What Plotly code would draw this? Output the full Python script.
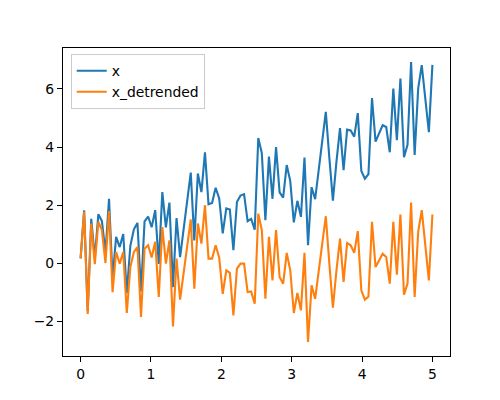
import numpy as np
import plotly.graph_objects as go

n_points = 100
t = np.linspace(0, 5, n_points)

x_values = [
    0.17, 1.82, -1.64, 1.53, 0.18, 1.69, 1.45, 0.37, 2.22, -0.52,
    0.91, 0.56, 1.01, -1.03, 0.60, 1.17, 1.39, -0.97, 1.44, 1.61,
    1.24, 1.83, -0.02, 2.45, 1.24, 2.09, -0.82, 1.56, 0.21, 1.15,
    2.12, 3.12, 0.79, 3.09, 2.45, 3.82, 2.03, 2.08, 2.60, 2.23,
    1.03, 1.89, 1.85, 0.45, 2.11, 2.33, 2.38, 1.45, 1.53, 1.16,
    4.31, 3.79, 1.48, 3.67, 2.22, 4.00, 2.44, 2.26, 3.38, 2.83,
    1.41, 2.15, 1.60, 3.64, 0.62, 2.62, 2.21, 3.24, 4.22, 5.21,
    3.63, 2.16, 3.50, 4.65, 3.21, 4.60, 4.57, 4.36, 5.17, 3.18,
    2.91, 3.07, 5.69, 4.19, 4.47, 4.75, 4.69, 3.82, 6.01, 4.24,
    6.36, 3.65, 4.08, 6.93, 3.73, 6.02, 6.82, 5.55, 4.51, 6.83,
]

x_detrended = [
    0.17, 1.77, -1.74, 1.37, -0.03, 1.43, 1.14, 0.01, 1.80, -0.99,
    0.39, -0.01, 0.39, -1.71, -0.13, 0.39, 0.56, -1.85, 0.50, 0.62,
    0.20, 0.74, -1.16, 1.25, -0.01, 0.79, -2.17, 0.16, -1.25, -0.36,
    0.56, 1.51, -0.87, 1.37, 0.68, 2.00, 0.16, 0.16, 0.62, 0.20,
    -1.05, -0.24, -0.33, -1.79, -0.18, -0.01, -0.01, -0.99, -0.97, -1.39,
    1.71, 1.14, -1.22, 0.91, -0.59, 1.14, -0.47, -0.70, 0.36, -0.24,
    -1.71, -1.02, -1.62, 0.36, -2.71, -0.76, -1.22, -0.24, 0.68, 1.62,
    -0.01, -1.53, -0.24, 0.85, -0.64, 0.70, 0.62, 0.36, 1.11, -0.93,
    -1.25, -1.14, 1.43, -0.13, 0.10, 0.33, 0.22, -0.70, 1.43, -0.39,
    1.68, -1.08, -0.70, 2.09, -1.16, 1.08, 1.83, 0.51, -0.59, 1.68,
]

x_ticks = [0, 1, 2, 3, 4, 5]
y_ticks = [-2, 0, 2, 4, 6]

fig = go.Figure()
fig.add_trace(go.Scatter(x=t, y=x_values, mode="lines", name="x",
                         line=dict(color="#1f77b4", width=2.1)))
fig.add_trace(go.Scatter(x=t, y=x_detrended, mode="lines", name="x_detrended",
                         line=dict(color="#ff7f0e", width=2.1)))

axis_common = dict(
    showgrid=False, zeroline=False, showline=True, linecolor="black",
    linewidth=1.1, mirror=True, ticks="outside", ticklen=5, tickwidth=1.1,
    tickcolor="black", tickfont=dict(family="DejaVu Sans", size=13.9, color="black"),
)

fig.update_layout(
    width=500, height=400,
    margin=dict(l=62.5, r=50, t=48, b=44),
    paper_bgcolor="white", plot_bgcolor="white",
    font=dict(family="DejaVu Sans", size=13.9, color="black"),
    showlegend=True,
    legend=dict(x=0.02, y=0.98, xanchor="left", yanchor="top",
                bgcolor="rgba(255,255,255,0.8)", bordercolor="#cccccc",
                borderwidth=1, font=dict(size=13.9), tracegroupgap=0,
                itemwidth=30),
    xaxis=dict(range=[-0.25, 5.25], tickvals=x_ticks, **axis_common),
    yaxis=dict(range=[-3.19, 7.41], tickvals=y_ticks, **axis_common),
)

fig.write_html("out.html")
